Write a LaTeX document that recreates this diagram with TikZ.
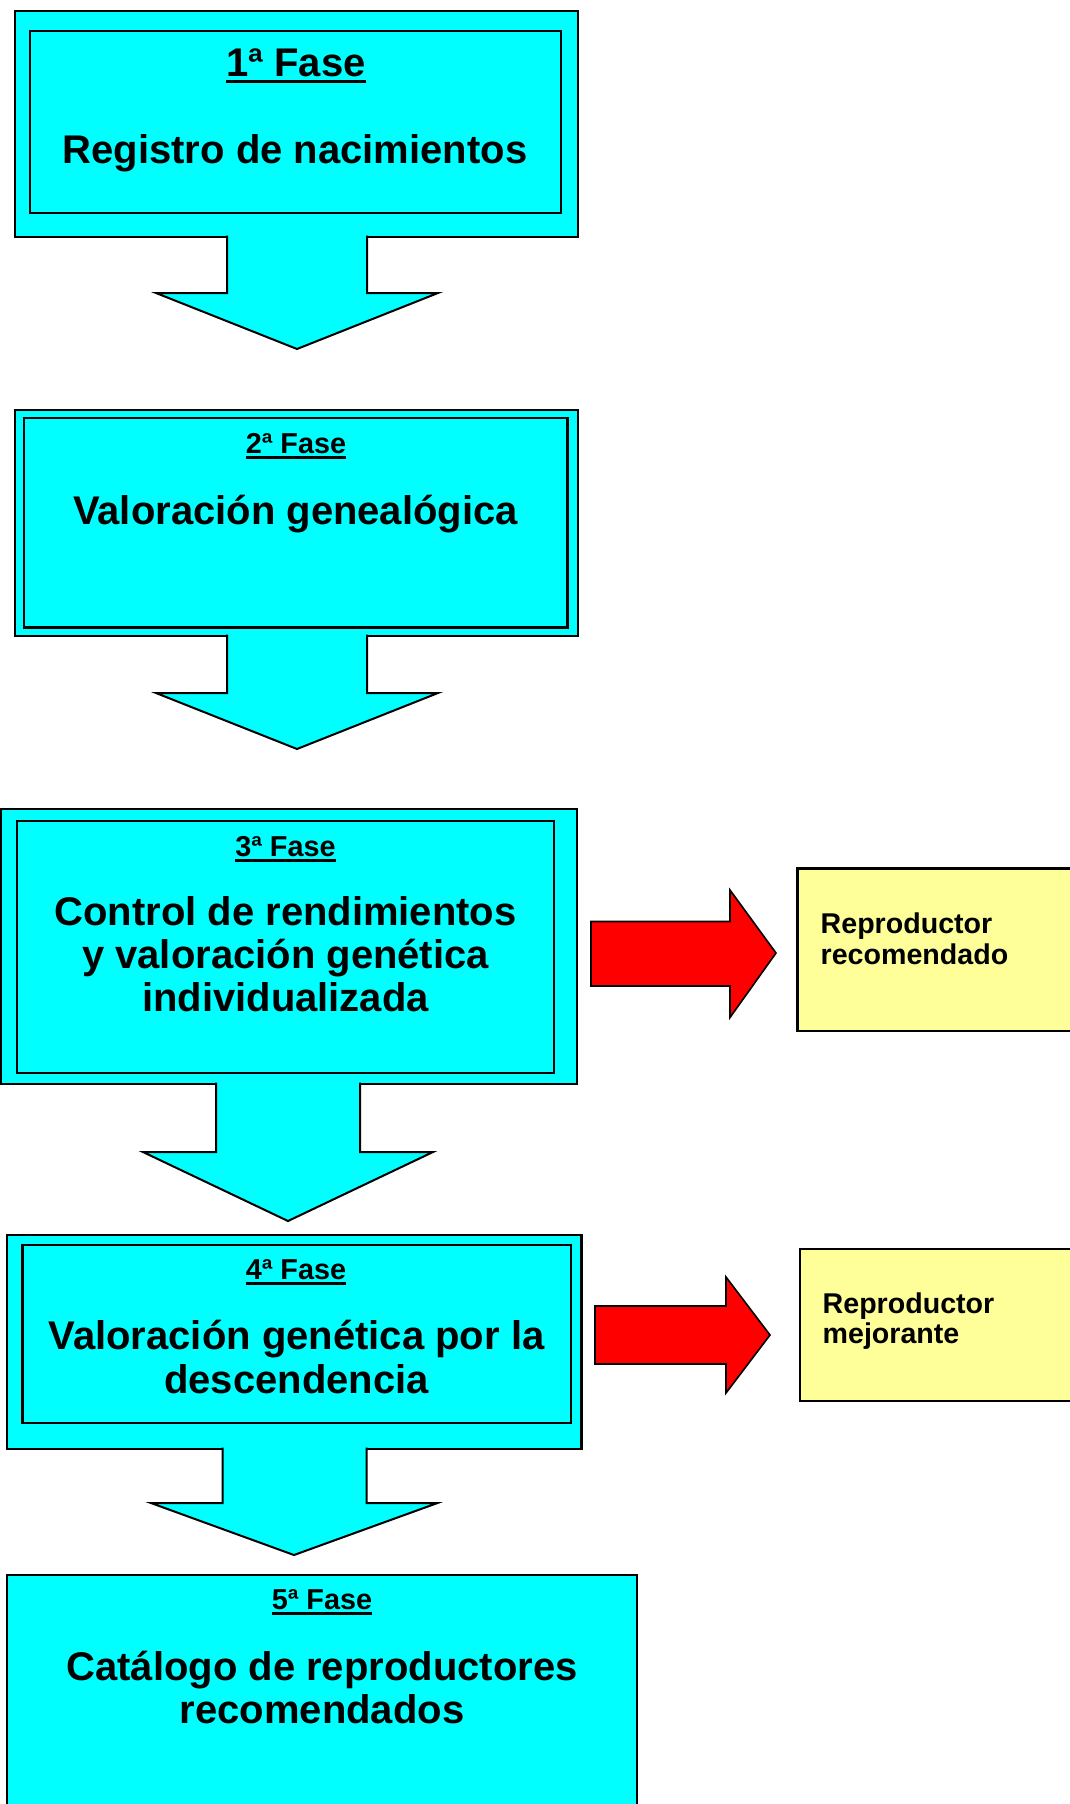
\documentclass[tikz,border=0pt]{standalone}
\usepackage{fontspec}
\setmainfont{Liberation Sans}
\usetikzlibrary{calc,fit}
\definecolor{cyanfill}{HTML}{00FFFF}
\definecolor{redfill}{HTML}{FF0000}
\definecolor{yelfill}{HTML}{FFFF99}
\begin{document}
\begin{tikzpicture}[x=1pt,y=-1pt,
  outerbox/.style={draw=black,line width=2.2pt,fill=cyanfill,inner sep=0pt},
  innerbox/.style={draw=black,line width=2.2pt,inner sep=0pt},
  yelbox/.style={draw=black,line width=2.2pt,fill=yelfill,inner sep=0pt},
  bigtxt/.style={inner sep=0pt,anchor=base,font=\fontsize{40}{43}\selectfont\bfseries},
  midtxt/.style={inner sep=0pt,anchor=base,font=\fontsize{28.8}{31}\selectfont\bfseries},
  sidetxt/.style={inner sep=0pt,anchor=base west,font=\fontsize{28.6}{31}\selectfont\bfseries},
  bigul/.style={line width=3.5pt},
  midul/.style={line width=3pt},
  downarrow/.style={draw=black,line width=2pt,fill=cyanfill,line join=miter},
  redarrow/.style={draw=black,line width=1.6pt,fill=redfill,line join=miter}
]
\useasboundingbox (0,0) rectangle (1070,1804);
\fill[white] (0,0) rectangle (1070,1804);

% ---------- Phase 1 ----------
\node[outerbox,fit={(15,11) (578,237)}] (b1) {};
\node[innerbox,fit={(30,31) (561,213)}] (b1i) {};
\node[bigtxt] (t1a) at (296,76) {1ª Fase};
\draw[bigul] ($(t1a.base west)+(0,5.5)$) -- ($(t1a.base east)+(0,5.5)$);
\node[bigtxt] (t1b) at (295,163) {Registro de nacimientos};

% ---------- Phase 2 ----------
\node[outerbox,fit={(15,410) (578,636)}] (b2) {};
\node[innerbox,fit={(24,418) (567.5,627.5)}] (b2i) {};
\node[midtxt] (t2a) at (296,453) {2ª Fase};
\draw[midul] ($(t2a.base west)+(0,4.5)$) -- ($(t2a.base east)+(0,4.5)$);
\node[bigtxt] (t2b) at (295.5,524) {Valoración genealógica};

% ---------- Phase 3 ----------
\node[outerbox,fit={(0.5,809) (577,1084)}] (b3) {};
\node[innerbox,fit={(17,821) (554,1073)}] (b3i) {};
\node[midtxt] (t3a) at (285.5,856) {3ª Fase};
\draw[midul] ($(t3a.base west)+(0,4.5)$) -- ($(t3a.base east)+(0,4.5)$);
\node[bigtxt] (t3b) at (285.5,925) {Control de rendimientos};
\node[bigtxt] (t3c) at (285.5,968) {y valoración genética};
\node[bigtxt] (t3d) at (285.5,1011.5) {individualizada};

% ---------- Phase 4 ----------
\node[outerbox,fit={(7,1235) (581.5,1449)}] (b4) {};
\node[innerbox,fit={(22.5,1245) (571,1423)}] (b4i) {};
\node[midtxt] (t4a) at (296,1279) {4ª Fase};
\draw[midul] ($(t4a.base west)+(0,4.5)$) -- ($(t4a.base east)+(0,4.5)$);
\node[bigtxt] (t4b) at (296.5,1349) {Valoración genética por la};
\node[bigtxt] (t4c) at (296.5,1393) {descendencia};

% ---------- Phase 5 ----------
\node[outerbox,fit={(7,1575) (637,1815)}] (b5) {};
\node[midtxt] (t5a) at (322,1609) {5ª Fase};
\draw[midul] ($(t5a.base west)+(0,4.5)$) -- ($(t5a.base east)+(0,4.5)$);
\node[bigtxt] (t5b) at (322,1680) {Catálogo de reproductores};
\node[bigtxt] (t5c) at (322,1723) {recomendados};

% ---------- side boxes ----------
\node[yelbox,fit={(797.5,868.5) (1080,1031)}] (y1) {};
\node[sidetxt] (y1a) at (820.5,933) {Reproductor};
\node[sidetxt] (y1b) at (820.5,964) {recomendado};
\node[yelbox,fit={(800,1249) (1080,1401)}] (y2) {};
\node[sidetxt] (y2a) at (822.5,1313) {Reproductor};
\node[sidetxt] (y2b) at (822.5,1343) {mejorante};

% ---------- down block arrows ----------
\filldraw[downarrow] (227,235.6) -- (227,293) -- (156,293) -- (297,349) -- (438,293) -- (367,293) -- (367,235.6);
\filldraw[downarrow] (227,634.6) -- (227,693) -- (156,693) -- (297,749) -- (438,693) -- (367,693) -- (367,634.6);
\filldraw[downarrow] (216,1082.6) -- (216,1152) -- (143,1152) -- (288,1221) -- (433,1152) -- (360,1152) -- (360,1082.6);
\filldraw[downarrow] (222.5,1447.6) -- (222.5,1503) -- (151,1503) -- (294,1555) -- (437.5,1503) -- (366.5,1503) -- (366.5,1447.6);

% ---------- red block arrows ----------
\filldraw[redarrow] (591,921.5) -- (730,921.5) -- (730,890) -- (776,953) -- (730,1017.5) -- (730,986) -- (591,986) -- cycle;
\filldraw[redarrow] (595,1306) -- (726,1306) -- (726,1277) -- (770,1335) -- (726,1393) -- (726,1364) -- (595,1364) -- cycle;
\end{tikzpicture}
\end{document}
